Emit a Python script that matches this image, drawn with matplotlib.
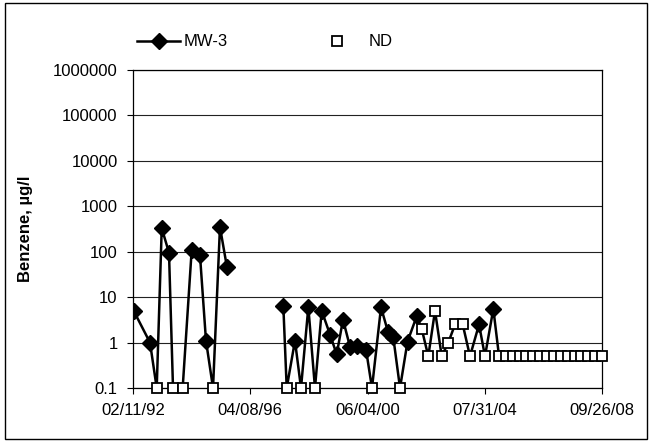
import numpy as np
import pandas as pd
import matplotlib
matplotlib.use("Agg")
import matplotlib.pyplot as plt
import matplotlib.dates as mdates
from matplotlib.lines import Line2D
from matplotlib.patches import Rectangle

plt.rcParams['font.family'] = ['Liberation Sans', 'DejaVu Sans']

# sample dates, benzene results (ug/l) and non-detect flags for MW-3
dates = ["1992-02-20", "1992-09-18", "1992-12-14", "1993-02-17", "1993-05-22",
         "1993-07-13", "1993-11-15", "1994-03-12", "1994-06-27", "1994-09-13",
         "1994-12-13", "1995-03-13", "1995-06-12",
         "1997-06-10", "1997-07-24", "1997-11-08", "1998-01-25", "1998-04-30",
         "1998-07-25", "1998-10-20", "1999-02-05", "1999-05-02", "1999-07-23",
         "1999-10-22", "2000-01-20", "2000-05-16", "2000-08-01", "2000-11-26",
         "2001-02-25", "2001-05-04", "2001-07-30", "2001-11-04", "2002-03-03",
         "2002-05-07", "2002-07-31", "2002-10-26", "2003-01-21", "2003-04-16",
         "2003-07-12", "2003-10-20", "2004-01-22", "2004-05-18", "2004-08-03",
         "2004-11-19", "2005-02-01", "2005-04-30", "2005-07-28", "2005-10-25",
         "2006-01-22", "2006-04-21", "2006-07-19", "2006-10-16", "2007-01-13",
         "2007-04-12", "2007-07-10", "2007-10-07", "2008-01-04", "2008-04-02",
         "2008-06-30", "2008-09-26"]
benzene = [5.0, 1.0, 0.1, 330, 95,
           0.1, 0.1, 110, 85, 1.1,
           0.1, 350, 45,
           6.5, 0.1, 1.1, 0.1, 6.0,
           0.1, 5.0, 1.5, 0.55, 3.2,
           0.8, 0.85, 0.7, 0.1, 6.0,
           1.7, 1.3, 0.1, 1.05, 3.8,
           2.0, 0.5, 5.0, 0.5, 1.0,
           2.5, 2.5, 0.5, 2.5, 0.5,
           5.5, 0.5, 0.5, 0.5, 0.5,
           0.5, 0.5, 0.5, 0.5, 0.5,
           0.5, 0.5, 0.5, 0.5, 0.5,
           0.5, 0.5]
nondetect = [0, 0, 1, 0, 0,
             1, 1, 0, 0, 0,
             1, 0, 0,
             0, 1, 0, 1, 0,
             1, 0, 0, 0, 0,
             0, 0, 0, 1, 0,
             0, 0, 1, 0, 0,
             1, 1, 1, 1, 1,
             1, 1, 1, 0, 1,
             0, 1, 1, 1, 1,
             1, 1, 1, 1, 1,
             1, 1, 1, 1, 1,
             1, 1]

tick_dates = ["1992-02-11", "1996-04-08", "2000-06-04", "2004-07-31", "2008-09-26"]
y_ticks = [0.1, 1, 10, 100, 1000, 10000, 100000, 1000000]

df = pd.DataFrame({"date": pd.to_datetime(dates), "val": benzene, "nd": nondetect})

# break the line where there was a long gap in sampling
line_x, line_y = [], []
prev = None
for d, v in zip(df["date"], df["val"]):
    if prev is not None and (d - prev).days > 500:
        line_x.append(prev + (d - prev) / 2)
        line_y.append(np.nan)
    line_x.append(d)
    line_y.append(v)
    prev = d

fig = plt.figure(figsize=(6.5, 4.42), dpi=100)
ax = fig.add_axes([133/650, 1-388/442, (602-133)/650, (388-70)/442])

ax.plot(line_x, line_y, color="black", lw=1.8, zorder=3)
det = df[df["nd"] == 0]
nd = df[df["nd"] == 1]
ax.plot(det["date"], det["val"], ls="none", marker="D", ms=8,
        color="black", zorder=4)
ax.plot(nd["date"], nd["val"], ls="none", marker="s", ms=7.8,
        mfc="white", mec="black", mew=1.3, zorder=5, clip_on=False)

ax.set_yscale("log")
ax.set_ylim(0.1, 1000000)
ax.set_xlim(pd.Timestamp(tick_dates[0]), pd.Timestamp(tick_dates[-1]))
ax.set_yticks(y_ticks)
ax.set_yticklabels(["0.1", "1", "10", "100", "1000", "10000", "100000", "1000000"])
ax.yaxis.set_minor_locator(matplotlib.ticker.NullLocator())
ax.set_xticks(pd.to_datetime(tick_dates))
ax.xaxis.set_major_formatter(mdates.DateFormatter("%m/%d/%y"))
ax.tick_params(axis="both", labelsize=12, direction="out", length=4,
               width=0.8, color="black")
ax.tick_params(axis="y", pad=7)
ax.tick_params(axis="x", pad=7)
ax.grid(axis="y", color="#222222", lw=0.8)
ax.set_axisbelow(True)
for s in ax.spines.values():
    s.set_color("black")
    s.set_linewidth(0.9)

ax.set_ylabel("Benzene, µg/l", fontsize=12, fontweight="bold")
ax.yaxis.set_label_coords(-0.213, 0.5)

h1 = Line2D([], [], color="black", lw=1.8, marker="D", ms=8)
h2 = Line2D([], [], ls="none", marker="s", ms=7.8, mfc="white", mec="black", mew=1.3)
leg1 = fig.legend([h1], ["MW-3"], loc="center left",
                  bbox_to_anchor=(137/650, 1-42/442), frameon=False,
                  fontsize=12, handlelength=2.6, handletextpad=0.2,
                  borderpad=0, borderaxespad=0)
leg2 = fig.legend([h2], ["ND"], loc="center left",
                  bbox_to_anchor=(329/650, 1-42/442), frameon=False,
                  fontsize=12, handlelength=1.0, handletextpad=1.4,
                  borderpad=0, borderaxespad=0)

fig.patches.append(Rectangle((5/650, 3/442), 642/650, 436/442,
                             transform=fig.transFigure, fill=False,
                             edgecolor="black", lw=1))

fig.savefig("out.png", dpi=100)
